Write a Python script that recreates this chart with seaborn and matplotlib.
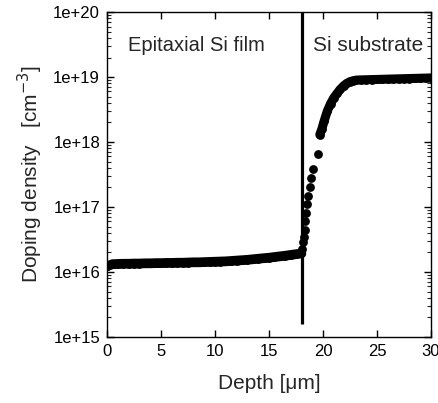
import numpy as np
import pandas as pd
import matplotlib
matplotlib.use("Agg")
import matplotlib.pyplot as plt
import seaborn as sns
from matplotlib.ticker import LogLocator, NullFormatter, FixedLocator

sns.set_style("ticks")
plt.rcParams['font.family'] = ['Liberation Sans', 'DejaVu Sans']

# Data
depth_um = [0.0, 0.5, 1.0, 1.5, 2.0, 2.5, 3.0, 3.5, 4.0, 4.5, 5.0, 5.5, 6.0, 6.5, 7.0,
            7.5, 8.0, 8.5, 9.0, 9.5, 10.0, 10.5, 11.0, 11.5, 12.0, 12.5, 13.0, 13.5,
            14.0, 14.5, 15.0, 15.5, 16.0, 16.5, 17.0, 17.5, 18.0,
            18.1, 18.15, 18.2, 18.3, 18.35, 18.45, 18.55, 18.65, 18.75, 18.9, 19.1,
            19.5, 19.7, 19.9, 20.1, 20.4, 20.7, 21.0, 21.3, 21.6, 21.9, 22.2, 22.5,
            22.8, 23.1, 23.5, 24.0, 24.5, 25.0, 25.5, 26.0, 26.5, 27.0, 27.5, 28.0,
            28.5, 29.0, 29.5, 30.0]
doping_cm3 = [1.22e16, 1.32e16, 1.33e16, 1.34e16, 1.34e16, 1.35e16, 1.35e16, 1.36e16,
              1.36e16, 1.37e16, 1.37e16, 1.38e16, 1.38e16, 1.39e16, 1.39e16, 1.40e16,
              1.41e16, 1.41e16, 1.42e16, 1.43e16, 1.44e16, 1.45e16, 1.46e16, 1.48e16,
              1.50e16, 1.52e16, 1.54e16, 1.57e16, 1.60e16, 1.63e16, 1.66e16, 1.70e16,
              1.74e16, 1.78e16, 1.83e16, 1.88e16, 1.93e16,
              2.3e16, 2.9e16, 3.5e16, 4.5e16, 6.0e16, 8.0e16, 1.1e17, 1.5e17, 2.0e17,
              2.8e17, 3.8e17,
              6.5e17, 1.3e18, 1.6e18, 2.1e18, 3.0e18, 3.9e18, 4.8e18, 5.6e18, 6.5e18,
              7.3e18, 8.0e18, 8.5e18, 8.8e18, 9.0e18, 9.05e18, 9.1e18, 9.15e18, 9.2e18,
              9.25e18, 9.3e18, 9.35e18, 9.4e18, 9.45e18, 9.5e18, 9.55e18, 9.6e18,
              9.65e18, 9.7e18]

interface_depth = 18.1
interface_span = [1.6e15, 1e20]
x_ticks = [0, 5, 10, 15, 20, 25, 30]
y_ticks = [1e15, 1e16, 1e17, 1e18, 1e19, 1e20]
y_tick_labels = ["1e+15", "1e+16", "1e+17", "1e+18", "1e+19", "1e+20"]
region_labels = ["Epitaxial Si film", "Si substrate"]

df = pd.DataFrame({"depth": depth_um, "doping": doping_cm3})

fig = plt.figure(figsize=(4.39, 4.03), dpi=100)
ax = fig.add_axes([0.2437, 0.1638, 0.7381, 0.8062])

sns.scatterplot(data=df, x="depth", y="doping", ax=ax, color="black", s=40,
                linewidth=0, marker="o", legend=False, zorder=3)
sns.lineplot(data=df[df.depth <= 18.0], x="depth", y="doping", ax=ax,
             color="black", linewidth=7, legend=False, zorder=2, sort=True)
sns.lineplot(data=df[df.depth >= 19.7], x="depth", y="doping", ax=ax,
             color="black", linewidth=6.5, legend=False, zorder=2, sort=True)

ax.plot([interface_depth, interface_depth], interface_span, color="black",
        linewidth=2.3, zorder=4, solid_capstyle="butt")

ax.set_yscale("log")
ax.set_xlim(0, 30)
ax.set_ylim(1e15, 1e20)
ax.xaxis.set_major_locator(FixedLocator(x_ticks))
ax.set_yticks(y_ticks)
ax.set_yticklabels(y_tick_labels)
ax.yaxis.set_minor_locator(LogLocator(base=10, subs=np.arange(2, 10), numticks=50))
ax.yaxis.set_minor_formatter(NullFormatter())

ax.tick_params(axis="both", which="major", direction="in", length=5, width=1,
               top=True, right=True, labelsize=12, pad=5, colors="black")
ax.tick_params(axis="y", which="minor", direction="in", length=3, width=0.8,
               right=True, left=True)
for sp in ax.spines.values():
    sp.set_linewidth(1.0)
    sp.set_color("black")
    sp.set_visible(True)

ax.set_xlabel("Depth [\u03bcm]", fontsize=15, labelpad=11)
ax.set_ylabel("Doping density   [cm$^{-3}$]", fontsize=15, labelpad=6)

ax.text(1.95, 3.1e19, region_labels[0], fontsize=14.5, ha="left", va="center")
ax.text(19.1, 3.1e19, region_labels[1], fontsize=15, ha="left", va="center")

fig.savefig("out.png", dpi=100)
